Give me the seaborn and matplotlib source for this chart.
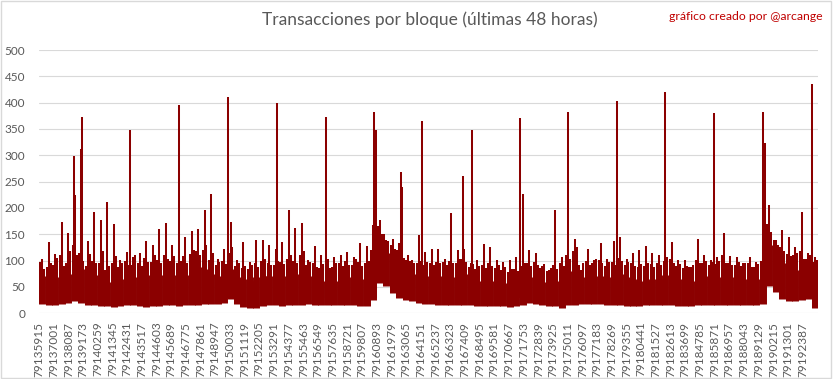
import matplotlib
matplotlib.use('Agg')
import matplotlib.pyplot as plt
from matplotlib.patches import Rectangle
import seaborn as sns
import pandas as pd

# first block of the 48h window, blocks summarised per column
first_block = 79135915
col_blocks = 480
tick_step = 1086
n_ticks = 53

# lower edge, dense body top and highest thin spike per column
tx_low = [18, 16, 15, 17, 20, 24, 20, 16, 15, 14, 13, 12, 14, 15, 15, 14, 12, 13, 14, 16,
          15, 14, 15, 16, 16, 17, 18, 18, 20, 28, 18, 12, 10, 11, 14, 15, 15, 14, 15, 16, 16,
          18, 16, 15, 15, 16, 16, 16, 15, 14, 14, 25, 58, 52, 38, 30, 26, 23, 20, 18, 17, 16,
          16, 16, 15, 15, 15, 14, 14, 13, 13, 13, 12, 14, 15, 20, 18, 15, 14, 14, 10, 15, 16,
          18, 18, 18, 17, 16, 16, 16, 14, 14, 14, 15, 15, 15, 16, 16, 14, 13, 13, 15, 16, 16,
          16, 16, 15, 15, 15, 16, 15, 18, 52, 40, 28, 24, 24, 26, 28, 10]
tx_body = [70, 65, 68, 70, 75, 95, 85, 70, 72, 72, 60, 70, 65, 68, 68, 70, 72, 70, 72, 75,
           72, 70, 72, 78, 88, 85, 75, 70, 72, 85, 68, 65, 62, 68, 70, 70, 72, 70, 72, 75, 78,
           70, 65, 62, 62, 62, 65, 68, 65, 65, 68, 85, 140, 115, 100, 90, 80, 75, 72, 70, 68, 70,
           70, 68, 70, 75, 65, 62, 62, 62, 60, 58, 52, 58, 65, 68, 68, 60, 58, 62, 65, 80, 90,
           68, 70, 70, 70, 68, 72, 75, 68, 65, 62, 62, 65, 65, 72, 70, 65, 60, 62, 68, 70, 68,
           68, 70, 68, 65, 65, 68, 65, 72, 130, 108, 95, 85, 82, 80, 78, 75]
tx_peak = [104, 135, 112, 174, 152, 225, 100, 137, 193, 178, 212, 169, 101, 116, 107, 114, 138, 130, 160, 171,
           130, 123, 144, 156, 161, 197, 226, 104, 123, 174, 101, 136, 98, 139, 140, 130, 123, 136, 197, 162, 171,
           101, 128, 111, 104, 107, 111, 117, 107, 133, 128, 168, 177, 139, 142, 133, 101, 101, 149, 117, 123, 123,
           104, 190, 120, 123, 95, 101, 131, 125, 101, 98, 101, 107, 226, 120, 114, 90, 82, 197, 107, 123, 142,
           82, 123, 101, 133, 104, 138, 144, 104, 114, 120, 128, 114, 111, 111, 135, 101, 101, 88, 142, 111, 101,
           107, 153, 109, 107, 95, 107, 98, 130, 205, 139, 159, 145, 126, 193, 114, 107]
# secondary spikes in the first and last quarter of each column
tx_mid_a = [98, 88, 92, 110, 95, 130, 115, 90, 100, 96, 82, 95, 88, 100, 92, 96, 105, 98, 102, 110,
            100, 95, 108, 112, 118, 120, 102, 92, 100, 115, 90, 86, 84, 95, 100, 96, 92, 98, 104, 100, 110,
            92, 96, 86, 90, 88, 95, 100, 92, 98, 96, 120, 165, 150, 130, 120, 105, 100, 95, 92, 96, 98,
            98, 100, 95, 104, 88, 85, 92, 96, 86, 82, 78, 84, 90, 96, 98, 86, 80, 92, 96, 110, 118,
            92, 100, 96, 102, 90, 98, 105, 92, 96, 88, 90, 94, 96, 100, 104, 90, 86, 88, 102, 96, 92,
            94, 110, 96, 92, 90, 96, 88, 100, 170, 140, 125, 112, 110, 118, 104, 98]
tx_mid_b = [85, 96, 105, 90, 118, 110, 100, 112, 95, 118, 90, 108, 96, 92, 110, 90, 98, 110, 95, 104,
            108, 100, 96, 120, 110, 130, 115, 98, 94, 125, 96, 90, 92, 88, 104, 92, 100, 94, 110, 96, 118,
            98, 88, 94, 86, 95, 90, 92, 104, 90, 100, 108, 150, 138, 122, 112, 110, 95, 100, 98, 92, 96,
            92, 96, 104, 98, 94, 90, 86, 90, 92, 88, 84, 80, 96, 90, 92, 94, 86, 84, 90, 104, 125,
            96, 92, 104, 96, 98, 92, 100, 98, 90, 94, 96, 88, 92, 106, 96, 94, 90, 92, 96, 100, 98,
            100, 96, 92, 98, 96, 88, 94, 96, 155, 130, 118, 108, 115, 104, 110, 102]

# isolated big blocks: offset from first block and transactions
spike_offset = [2610, 3128, 3202, 6751, 10352, 13975, 17576, 21184, 24792, 24940, 26789, 26863,
                28342, 31350, 31994, 35566, 39137, 42760, 46309, 49910, 53555, 53681, 57135, 57180]
spike_tx = [298, 312, 372, 349, 395, 410, 399, 372, 382, 349, 268, 239,
            366, 260, 348, 371, 382, 403, 420, 380, 382, 323, 435, 330]

red = '#8b0000'
grey = '#595959'

rows_body, rows_thin = [], []
for i in range(len(tx_low)):
    b0 = first_block + i * col_blocks
    rows_body += [(i, b0 + col_blocks / 2, tx_low[i]), (i, b0 + col_blocks / 2, tx_body[i])]
    for k, (pos, top) in enumerate([(0.2, tx_mid_a[i]), (0.5, tx_peak[i]), (0.8, tx_mid_b[i])]):
        uid = 3 * i + k
        rows_thin += [(uid, b0 + pos * col_blocks, tx_low[i]), (uid, b0 + pos * col_blocks, top)]
for j in range(len(spike_tx)):
    b = first_block + spike_offset[j]
    rows_thin += [(1000 + j, b, 30), (1000 + j, b, spike_tx[j])]
body = pd.DataFrame(rows_body, columns=['col', 'block', 'tx'])
thin = pd.DataFrame(rows_thin, columns=['col', 'block', 'tx'])

sns.set_style('white')
plt.rcParams['font.family'] = ['Lato', 'DejaVu Sans']

fig = plt.figure(figsize=(8.33, 3.79), dpi=100)
ax = fig.add_axes([39 / 833, 1 - 313.3 / 379, 779 / 833, 263.3 / 379])

sns.lineplot(data=body, x='block', y='tx', units='col', estimator=None, color=red,
             linewidth=5.0, solid_capstyle='butt', ax=ax)
sns.lineplot(data=thin, x='block', y='tx', units='col', estimator=None, color=red,
             linewidth=1.45, solid_capstyle='butt', ax=ax)

ax.set_xlim(first_block - 0.5, first_block + col_blocks * len(tx_low) - 0.5)
ax.set_ylim(0, 500)
ax.set_yticks(range(0, 501, 50))
ticks = [first_block + k * tick_step for k in range(n_ticks)]
ax.set_xticks(ticks)
ax.set_xticklabels([str(t) for t in ticks], rotation=90)
ax.tick_params(axis='both', length=0, labelsize=8.5, labelcolor=grey)
ax.tick_params(axis='y', pad=10)
ax.tick_params(axis='x', pad=6)
ax.grid(axis='y', color='#d9d9d9', linewidth=0.8)
ax.set_axisbelow(True)
for s in ax.spines.values():
    s.set_visible(False)
ax.set_xlabel('')
ax.set_ylabel('')

fig.text(0.516, 1 - 20 / 379, 'Transacciones por bloque (últimas 48 horas)',
         ha='center', va='center', fontsize=12.5, color=grey)
fig.text(0.988, 1 - 16 / 379, 'gráfico creado por @arcange',
         ha='right', va='center', fontsize=8.8, color='#c00000')
fig.patches.append(Rectangle((0.001, 0.002), 0.997, 0.995, transform=fig.transFigure,
                             fill=False, edgecolor='#d9d9d9', linewidth=1))

fig.savefig('out.png', dpi=100)
